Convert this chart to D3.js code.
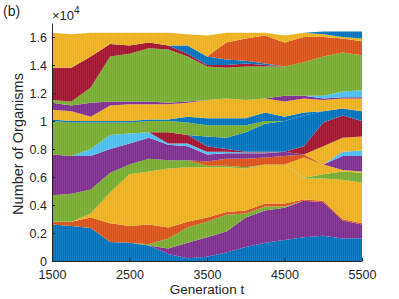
<!DOCTYPE html>
<head>
    <meta charset="utf-8">
    <script src="https://d3js.org/d3.v7.min.js"></script>
</head>
<style>
    body { margin: 0; background: #fff; }
    text { font-family: "Liberation Sans", Arial, sans-serif; fill: #262626; }
    .axis path, .axis line { stroke: #262626; }
</style>
<body>
    <div id="chart"></div>
</body>

<script>
    // generations sampled along the x axis
    const generations = [1500, 1750, 2000, 2250, 2500, 2750, 3000, 3250, 3500,
                         3750, 4000, 4250, 4500, 4750, 5000, 5250, 5500];

    // organisms per lineage, in units of 10^4, stacked bottom to top
    const blue1   = [.26,.25,.235,.135,.13,.11,.05,.02,.03,.06,.10,.13,.15,.17,.18,.16,.16];
    const purple1 = [0,0,0,0,0,0,.04,.11,.14,.15,.21,.23,.23,.26,.24,.13,.10];
    const green1  = [0,0,0,0,0,.01,.07,.11,.11,.12,.03,.03,.01,0,0,0,0];
    const orange1 = [.02,.03,.075,.135,.12,.14,.08,.04,.03,.02,.02,.02,.02,.01,.01,.01,.01];
    const yellow1 = [0,0,.03,.22,.37,.38,.42,.39,.36,.32,.30,.28,.28,.15,.16,.28,.29];
    const green2  = [.19,.20,.17,.14,.07,.09,.06,.05,.01,.01,.01,0,0,.005,.03,.06,.07];
    const yellow1b= [0,0,0,0,0,0,0,0,0,0,0,0,0,.145,.07,.01,.01];
    const orange2 = [0,0,0,0,0,0,0,0,.03,.05,.06,.05,.06,.02,0,0,0];
    const purple2 = [.29,.27,.24,.17,.15,.15,.11,.10,.05,.04,.04,.03,.03,0,0,.10,.11];
    const cyan1   = [0,0,.05,.10,.07,.04,.01,.02,.02,.01,.005,.005,0,0,0,.03,.04];
    const yellow4 = [0,0,0,0,0,0,0,0,0,0,0,0,0,0,.13,.10,.10];
    const red2    = [0,0,0,0,0,0,.08,.06,.04,.02,.005,.005,0,.06,.17,.16,.11];
    const blue2   = [0,0,0,0,0,0,0,0,.07,.08,.14,.20,.22,.22,.08,.05,.07];
    const green3  = [.24,.24,.19,.09,.08,.08,.08,.09,.08,.09,.05,.02,0,0,0,0,0];
    const blue5   = [.01,.01,.01,.01,.01,.01,.01,.04,.05,.05,.05,.06,.03,.02,0,0,0];
    const yellow2 = [.07,.07,.03,.11,.12,.11,.11,.10,.13,.14,.13,.10,.11,.10,.08,.07,.09];
    const purple3 = [.05,.04,.10,.03,.02,.02,.01,.01,0,0,0,0,.04,.02,.01,.01,.01];
    const cyan2   = [0,0,0,0,0,0,0,0,0,0,0,0,0,0,.02,.04,.05];
    const green4  = [.02,.03,.11,.32,.34,.38,.38,.32,.24,.22,.24,.23,.21,.24,.28,.28,.25];
    const red1    = [.23,.24,.22,.09,.06,.04,.03,.02,.01,.02,.02,.01,0,0,0,0,0];
    const blue3   = [0,0,0,0,0,0,0,.06,.06,.04,.02,.01,0,0,0,0,0];
    const orange3 = [0,0,0,0,0,0,0,0,0,.12,.16,.20,.17,.18,.14,.10,.10];
    const yellow3 = [.25,.24,.17,.08,.09,.07,.09,.08,.15,.07,.04,.02,.05,.03,.02,.01,.02];
    const blue4   = [0,0,0,0,0,0,0,0,0,0,0,0,0,0,.02,.04,.05];

    const yTicks = [0, 0.2, 0.4, 0.6, 0.8, 1, 1.2, 1.4, 1.6];
    const xTicks = [1500, 2500, 3500, 4500, 5500];

    // matlab default line colours
    const c = {blue: "#0072BD", orange: "#D95319", yellow: "#EDB120", purple: "#7E2F8E",
               green: "#77AC30", cyan: "#4DBEEE", red: "#A2142F"};

    const layers = [
        ["blue1", blue1, c.blue], ["purple1", purple1, c.purple], ["green1", green1, c.green],
        ["orange1", orange1, c.orange], ["yellow1", yellow1, c.yellow], ["green2", green2, c.green],
        ["yellow1b", yellow1b, c.yellow], ["orange2", orange2, c.orange], ["purple2", purple2, c.purple],
        ["cyan1", cyan1, c.cyan], ["yellow4", yellow4, c.yellow], ["red2", red2, c.red],
        ["blue2", blue2, c.blue], ["green3", green3, c.green], ["blue5", blue5, c.blue],
        ["yellow2", yellow2, c.yellow], ["purple3", purple3, c.purple], ["cyan2", cyan2, c.cyan],
        ["green4", green4, c.green], ["red1", red1, c.red], ["blue3", blue3, c.blue],
        ["orange3", orange3, c.orange], ["yellow3", yellow3, c.yellow], ["blue4", blue4, c.blue]
    ];

    const margin = {top: 23, right: 37, bottom: 38, left: 52},
        width = 399 - margin.left - margin.right,
        height = 299 - margin.top - margin.bottom;

    const svg = d3.select("#chart")
        .append("svg")
        .attr("width", 399)
        .attr("height", 299);

    // faint vertical stripes, like the thin bars of the original
    svg.append("defs").append("pattern")
        .attr("id", "stripes")
        .attr("patternUnits", "userSpaceOnUse")
        .attr("width", 2).attr("height", 4)
        .append("rect")
        .attr("width", 0.6).attr("height", 4)
        .attr("fill", "#fff").attr("fill-opacity", 0.13);

    const g = svg.append("g")
        .attr("transform", `translate(${margin.left},${margin.top})`);

    // one row per generation
    const table = generations.map((gen, i) => {
        const row = {gen: gen};
        layers.forEach(l => { row[l[0]] = l[1][i]; });
        return row;
    });

    const stack = d3.stack().keys(layers.map(l => l[0]));
    const series = stack(table);

    const x = d3.scaleLinear().domain([1500, 5500]).range([0, width]);
    const y = d3.scaleLinear().domain([0, 1.7]).range([height, 0]);

    const area = d3.area()
        .x(d => x(d.data.gen))
        .y0(d => y(d[0]))
        .y1(d => y(d[1]));

    g.selectAll(".layer")
        .data(series)
        .join("path")
        .attr("class", "layer")
        .attr("d", area)
        .attr("fill", (d, i) => layers[i][2]);

    g.append("rect")
        .attr("width", width).attr("height", height)
        .attr("fill", "url(#stripes)");

    // axes, box off, ticks pointing in
    g.append("g")
        .attr("class", "axis")
        .attr("transform", `translate(0,${height})`)
        .call(d3.axisBottom(x).tickValues(xTicks).tickFormat(d3.format("d"))
            .tickSizeInner(-3).tickSizeOuter(0).tickPadding(9))
        .call(a => a.selectAll("text").style("font-size", "12.5px").attr("fill", "#262626"));

    g.append("g")
        .attr("class", "axis")
        .call(d3.axisLeft(y).tickValues(yTicks).tickFormat(d => String(+d.toFixed(1)))
            .tickSizeInner(-3).tickSizeOuter(0).tickPadding(5))
        .call(a => a.selectAll("text").style("font-size", "12.5px").attr("fill", "#262626"));

    // exponent label
    const ex = svg.append("text")
        .attr("x", 52).attr("y", 20)
        .style("font-size", "13px");
    ex.append("tspan").text("×10");
    ex.append("tspan").attr("dy", -6).style("font-size", "10px").text("4");

    svg.append("text")
        .attr("x", 3).attr("y", 16)
        .style("font-size", "14px")
        .text("(b)");

    svg.append("text")
        .attr("x", margin.left + width / 2).attr("y", 294)
        .attr("text-anchor", "middle")
        .style("font-size", "13.5px")
        .text("Generation t");

    svg.append("text")
        .attr("transform", `translate(23,${margin.top + height / 2 + 2}) rotate(-90)`)
        .attr("text-anchor", "middle")
        .style("font-size", "14.5px")
        .text("Number of Organisms");
</script>
